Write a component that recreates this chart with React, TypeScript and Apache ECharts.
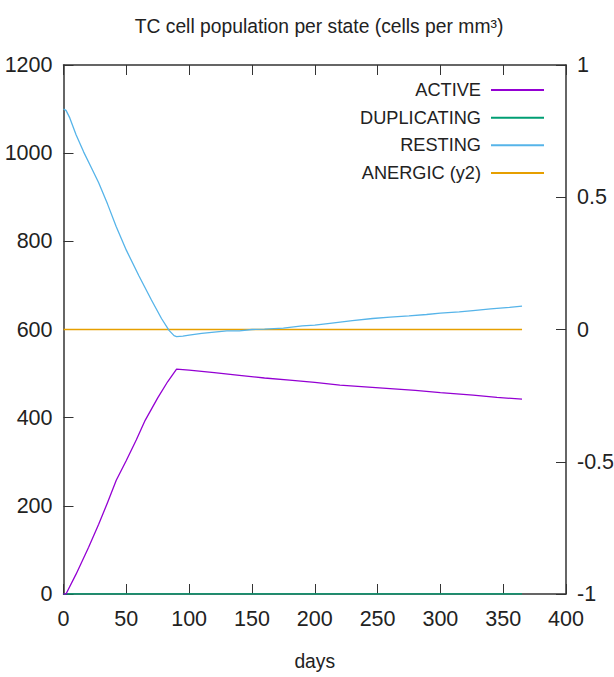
import React, { useEffect, useRef } from "react";
import * as echarts from "echarts";

const FONT = "'Liberation Sans', sans-serif";

const titleText = "TC cell population per state (cells per mm³)";
const xName = "days";
const seriesNames = ["ACTIVE", "DUPLICATING", "RESTING", "ANERGIC (y2)"];
const colors = ["#9400d3", "#009e73", "#56b4e9", "#e69f00"];

const activeDays = [0, 2, 10, 20, 28, 35, 42, 50, 58, 65, 75, 83, 90, 100, 120, 140, 160, 180, 200, 220, 240, 260, 280, 300, 326, 345, 365];
const activeVals = [0, 0, 45, 106, 158, 207, 258, 303, 350, 394, 445, 482, 510, 508, 502, 496, 490, 485, 480, 474, 470, 466, 462, 457, 451, 446, 442];

const duplicatingDays = [0, 100, 200, 300, 365];
const duplicatingVals = [0, 0, 0, 0, 0];

const restingDays = [0, 2, 5, 10, 16, 22, 28, 35, 42, 50, 60, 70, 78, 84, 88, 90, 95, 100, 110, 120, 130, 140, 150, 160, 175, 190, 200, 212, 230, 246, 260, 275, 289, 300, 315, 326, 340, 355, 365];
const restingVals = [1100, 1097, 1080, 1042, 1003, 968, 933, 885, 833, 780, 722, 667, 625, 598, 586, 584, 585, 587, 591, 594, 597, 597, 600, 601, 603, 608, 610, 614, 620, 625, 628, 631, 634, 637, 640, 643, 647, 650, 653];

const anergicDays = [0, 100, 200, 300, 365];
const anergicVals = [0, 0, 0, 0, 0];

const xTicks = { min: 0, max: 400, interval: 50 };
const yTicks = { min: 0, max: 1200, interval: 200 };
const y2Ticks = { min: -1, max: 1, interval: 0.5 };

const legendCenters = [90, 117.7, 145.3, 173];

function pairs(xs: number[], ys: number[]) {
  return xs.map((x, i) => [x, ys[i]]);
}

export default function App() {
  const ref = useRef<HTMLDivElement>(null);
  useEffect(() => {
    if (!ref.current) return;
    const chart = echarts.init(ref.current, undefined, { renderer: "svg" });
    const fsTick = 21.5;
    const fsTitle = 19.3;
    const fsLegend = 18.2;
    const textColor = "#222";
    const axisColor = "#333";
    const plain = (v: number) => String(v);
    const dataSets = [
      pairs(activeDays, activeVals),
      pairs(duplicatingDays, duplicatingVals),
      pairs(restingDays, restingVals),
      pairs(anergicDays, anergicVals),
    ];
    const tick = { show: true, inside: true, length: 10, lineStyle: { color: axisColor } };
    const line = { show: true, onZero: false, lineStyle: { color: axisColor, width: 1.5 } };
    chart.setOption({
      animation: false,
      backgroundColor: "#fff",
      textStyle: { fontFamily: FONT },
      title: {
        text: titleText,
        left: 314,
        textAlign: "center",
        top: 12,
        textStyle: { fontFamily: FONT, fontSize: fsTitle, fontWeight: "normal", color: textColor },
      },
      grid: { left: 63.5, right: 48, top: 65, bottom: 83, outerBoundsMode: "none", containLabel: false },
      legend: seriesNames.map((n, i) => ({
        data: [n],
        right: 70,
        top: legendCenters[i] - 12,
        padding: 0,
        align: "right",
        icon: "rect",
        itemWidth: 53,
        itemHeight: 2,
        selectedMode: false,
        textStyle: { fontFamily: FONT, fontSize: fsLegend, color: textColor, lineHeight: 24, padding: [0, 5, 0, 0] },
      })),
      xAxis: [
        {
          type: "value",
          ...xTicks,
          position: "bottom",
          name: xName,
          nameLocation: "middle",
          nameGap: 58,
          nameTextStyle: { fontFamily: FONT, fontSize: fsTitle, color: textColor },
          axisLine: line,
          axisTick: tick,
          axisLabel: { fontFamily: FONT, fontSize: fsTick, color: textColor, margin: 14, formatter: plain },
          splitLine: { show: false },
        },
        {
          type: "value",
          ...xTicks,
          position: "top",
          axisLine: line,
          axisTick: tick,
          axisLabel: { show: false },
          splitLine: { show: false },
        },
      ],
      yAxis: [
        {
          type: "value",
          ...yTicks,
          position: "left",
          axisLine: line,
          axisTick: tick,
          axisLabel: { fontFamily: FONT, fontSize: fsTick, color: textColor, margin: 11, formatter: plain },
          splitLine: { show: false },
        },
        {
          type: "value",
          ...y2Ticks,
          position: "right",
          axisLine: line,
          axisTick: tick,
          axisLabel: { fontFamily: FONT, fontSize: fsTick, color: textColor, margin: 11, formatter: plain },
          splitLine: { show: false },
        },
      ],
      series: seriesNames.map((n, i) => ({
        name: n,
        type: "line",
        xAxisIndex: 0,
        yAxisIndex: i === 3 ? 1 : 0,
        data: dataSets[i],
        showSymbol: false,
        symbol: "none",
        color: colors[i],
        lineStyle: { color: colors[i], width: 1.3 },
        z: 2 + (i === 3 ? 0 : 4 - i),
      })),
    });
    return () => chart.dispose();
  }, []);
  return (
    <div
      ref={ref}
      style={{ position: "absolute", left: 0, top: 0, width: 614, height: 677 }}
    />
  );
}
